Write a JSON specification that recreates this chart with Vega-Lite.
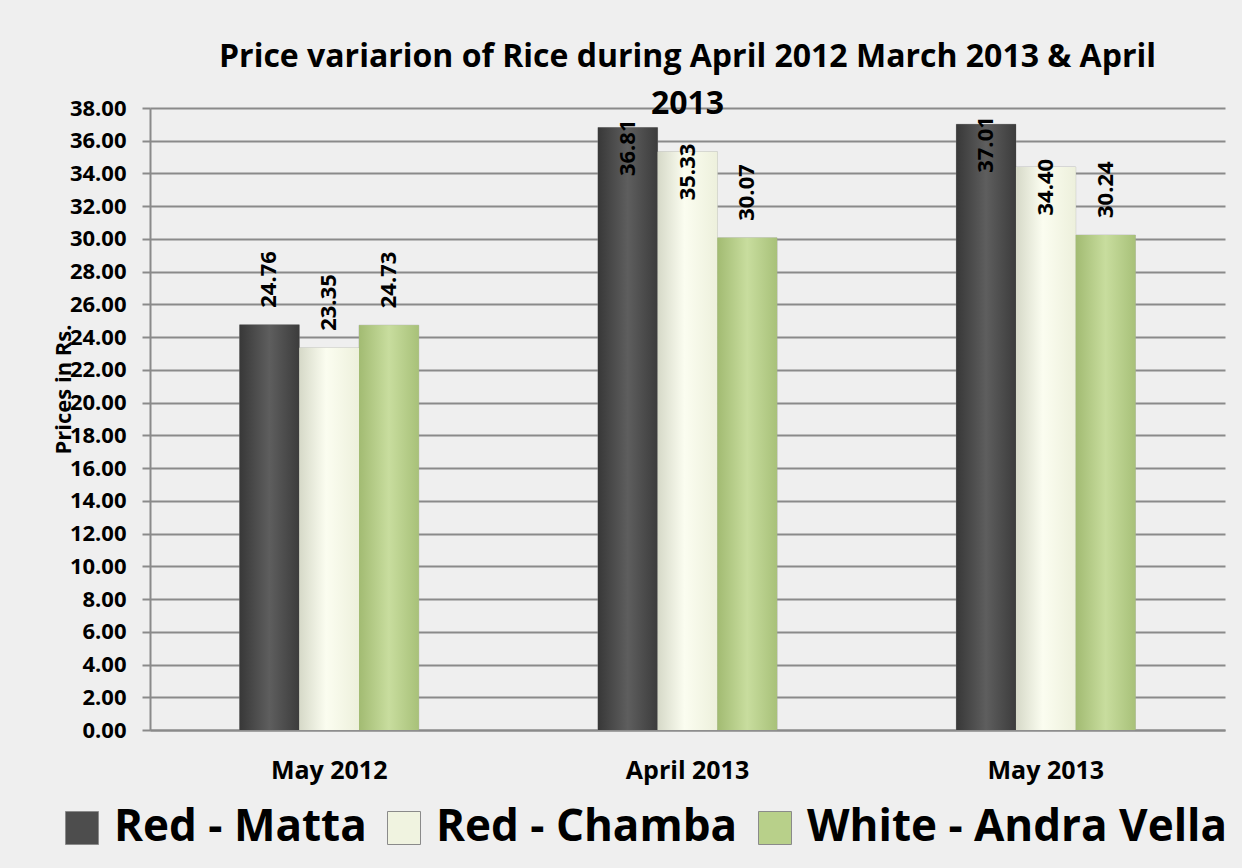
{
  "$schema": "https://vega.github.io/schema/vega-lite/v6.json",
  "width": 1075,
  "height": 622,
  "autosize": {"type": "none"},
  "padding": {"left": 150, "top": 108, "right": 17, "bottom": 138},
  "background": "#efefef",
  "config": {"view": {"stroke": null}},
  "title": {
    "text": ["Price variarion of Rice during April 2012 March 2013 & April", "2013"],
    "font": "Open Sans",
    "fontSize": 32,
    "fontWeight": "bold",
    "color": "#000000",
    "lineHeight": 47,
    "offset": -24,
    "anchor": "middle"
  },
  "data": {
    "values": [
      {"month": "May 2012", "variety": "Red - Matta", "price": 24.76},
      {"month": "May 2012", "variety": "Red - Chamba", "price": 23.35},
      {"month": "May 2012", "variety": "White - Andra Vella", "price": 24.73},
      {"month": "April 2013", "variety": "Red - Matta", "price": 36.81},
      {"month": "April 2013", "variety": "Red - Chamba", "price": 35.33},
      {"month": "April 2013", "variety": "White - Andra Vella", "price": 30.07},
      {"month": "May 2013", "variety": "Red - Matta", "price": 37.01},
      {"month": "May 2013", "variety": "Red - Chamba", "price": 34.40},
      {"month": "May 2013", "variety": "White - Andra Vella", "price": 30.24}
    ]
  },
  "encoding": {
    "x": {
      "field": "month",
      "type": "nominal",
      "sort": ["May 2012", "April 2013", "May 2013"],
      "scale": {"paddingInner": 0.5, "paddingOuter": 0.25},
      "axis": {
        "title": null,
        "labelAngle": 0,
        "labelFont": "Open Sans",
        "labelFontSize": 25,
        "labelFontWeight": "bold",
        "labelColor": "#000000",
        "labelPadding": 28,
        "ticks": false,
        "domainColor": "#8a8a8a",
        "domainWidth": 2
      }
    },
    "xOffset": {
      "field": "variety",
      "type": "nominal",
      "sort": ["Red - Matta", "Red - Chamba", "White - Andra Vella"],
      "scale": {"paddingInner": 0, "paddingOuter": 0}
    },
    "y": {
      "field": "price",
      "type": "quantitative",
      "scale": {"domain": [0, 38], "nice": false},
      "axis": {
        "values": [0, 2, 4, 6, 8, 10, 12, 14, 16, 18, 20, 22, 24, 26, 28, 30, 32, 34, 36, 38],
        "format": ".2f",
        "labelFont": "Open Sans",
        "labelFontSize": 22,
        "labelFontWeight": "bold",
        "labelColor": "#000000",
        "labelPadding": 16,
        "tickColor": "#8a8a8a",
        "tickSize": 8,
        "tickWidth": 2,
        "domainColor": "#8a8a8a",
        "domainWidth": 2,
        "gridColor": "#8a8a8a",
        "gridWidth": 2,
        "title": "Prices in Rs.",
        "titleFont": "Open Sans",
        "titleFontSize": 22,
        "titleFontWeight": "bold",
        "titleColor": "#000000",
        "titleX": -75,
        "titleY": 281,
        "titleAngle": 270
      }
    }
  },
  "layer": [
    {
      "mark": {"type": "bar", "stroke": "#9a9a9a", "strokeWidth": 0.5},
      "encoding": {
        "color": {
          "field": "variety",
          "type": "nominal",
          "sort": ["Red - Matta", "Red - Chamba", "White - Andra Vella"],
          "scale": {"range": ["#4d4d4d", "#f0f3e0", "#b8d08a"]},
          "legend": {
            "title": null,
            "orient": "none",
            "legendX": -90,
            "legendY": 698,
            "direction": "horizontal",
            "symbolType": "square",
            "symbolSize": 1089,
            "symbolStrokeColor": "#8a8a8a",
            "symbolStrokeWidth": 1,
            "labelFont": "Open Sans",
            "labelFontSize": 44,
            "labelFontWeight": "bold",
            "labelColor": "#000000",
            "labelLimit": 600,
            "labelOffset": 10,
            "columnPadding": 15
          }
        }
      }
    },
    {
      "transform": [{"filter": "datum.variety == 'Red - Matta'"}],
      "mark": {"type": "bar", "fill": {"gradient": "linear", "x1": 0, "y1": 0, "x2": 1, "y2": 0, "stops": [{"offset": 0, "color": "#383838"}, {"offset": 0.5, "color": "#5e5e5e"}, {"offset": 1, "color": "#3c3c3c"}]}}
    },
    {
      "transform": [{"filter": "datum.variety == 'Red - Chamba'"}],
      "mark": {"type": "bar", "fill": {"gradient": "linear", "x1": 0, "y1": 0, "x2": 1, "y2": 0, "stops": [{"offset": 0, "color": "#d6d9c8"}, {"offset": 0.45, "color": "#fbfdf0"}, {"offset": 1, "color": "#edf0dc"}]}}
    },
    {
      "transform": [{"filter": "datum.variety == 'White - Andra Vella'"}],
      "mark": {"type": "bar", "fill": {"gradient": "linear", "x1": 0, "y1": 0, "x2": 1, "y2": 0, "stops": [{"offset": 0, "color": "#a2bb72"}, {"offset": 0.5, "color": "#c8dd9e"}, {"offset": 1, "color": "#a8c179"}]}}
    },
    {
      "transform": [{"filter": "datum.price < 32"}],
      "mark": {"type": "text", "angle": 270, "align": "left", "baseline": "middle", "dx": 17, "font": "Open Sans", "fontSize": 22, "fontWeight": "bold", "color": "#000000"},
      "encoding": {"text": {"field": "price", "type": "quantitative", "format": ".2f"}}
    },
    {
      "transform": [{"filter": "datum.price >= 32"}],
      "mark": {"type": "text", "angle": 270, "align": "right", "baseline": "middle", "dx": 8, "font": "Open Sans", "fontSize": 22, "fontWeight": "bold", "color": "#000000"},
      "encoding": {"text": {"field": "price", "type": "quantitative", "format": ".2f"}}
    }
  ]
}
